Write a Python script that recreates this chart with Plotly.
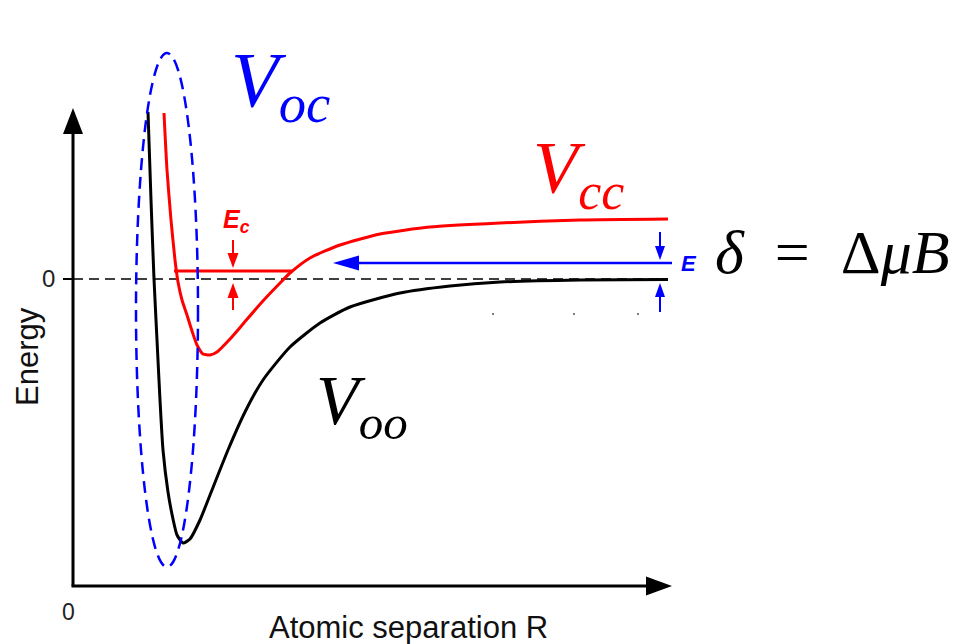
import plotly.graph_objects as go

# ---------------- data (R in px-like units, Energy with 0 at the threshold) -------------
R_oo = [148, 151, 154, 157, 160, 163, 168, 173, 177, 183, 190, 200, 212, 228, 245, 263,
        290, 320, 350, 400, 450, 500, 580, 668]
E_oo = [167, 79, 0, -61, -121, -171, -213, -240, -256, -264, -260, -241, -211, -171, -133,
        -101, -68, -44, -28, -14, -7, -3, -1, -0.5]

R_cc = [164, 167, 171, 175, 178, 182, 187, 192, 197, 203, 210, 217, 230, 243, 262, 283,
        290, 310, 340, 380, 430, 500, 580, 668]
E_cc = [166, 109, 59, 19, -3, -21, -36, -52, -66, -75, -76, -73, -60, -45, -23, -1,
        6, 21, 34, 45, 52, 56, 59, 60]

bound_R = [174, 292]
bound_E = 8

zero_R = [73, 668]
axis_origin = (73, -307)
axis_x_end = 672
axis_y_end = 171

ellipse_box = dict(x0=136, x1=198, y0=-288, y1=226)

ec_arrows = [((233, 39), (233, 11)), ((233, -31), (233, -4))]
delta_arrows = [((660, 47), (660, 19)), ((660, -33), (660, -4))]
E_arrow = ((672, 16), (333, 16))

stray_dots_R = [493, 574, 638]
stray_dots_E = [-35, -35, -35]

RED = "#ff0000"
BLUE = "#0000ff"
BLACK = "#000000"

fig = go.Figure()

fig.add_trace(go.Scatter(x=R_oo, y=E_oo, mode="lines", line=dict(color=BLACK, width=3, shape="spline", smoothing=0.6),
                         hoverinfo="skip", showlegend=False))
fig.add_trace(go.Scatter(x=R_cc, y=E_cc, mode="lines", line=dict(color=RED, width=3, shape="spline", smoothing=0.6),
                         hoverinfo="skip", showlegend=False))
fig.add_trace(go.Scatter(x=stray_dots_R, y=stray_dots_E, mode="markers",
                         marker=dict(color="#555555", size=2), hoverinfo="skip", showlegend=False))

shapes = []

def head(tip, tail, length, width, color):
    (tx, ty), (sx, sy) = tip, tail
    dx, dy = tx - sx, ty - sy
    n = (dx * dx + dy * dy) ** 0.5
    ux, uy = dx / n, dy / n
    bx, by = tx - ux * length, ty - uy * length
    px, py = -uy * width / 2, ux * width / 2
    path = f"M {tx},{ty} L {bx+px},{by+py} L {bx-px},{by-py} Z"
    return dict(type="path", path=path, fillcolor=color, line=dict(color=color, width=0), layer="above")

def arrow(tail, tip, color, lw, length, width):
    (sx, sy), (tx, ty) = tail, tip
    n = ((tx - sx) ** 2 + (ty - sy) ** 2) ** 0.5
    ux, uy = (tx - sx) / n, (ty - sy) / n
    ex, ey = tx - ux * length * 0.8, ty - uy * length * 0.8
    shapes.append(dict(type="line", x0=sx, y0=sy, x1=ex, y1=ey, line=dict(color=color, width=lw), layer="above"))
    shapes.append(head(tip, tail, length, width, color))

# zero dashed line
shapes.append(dict(type="line", x0=zero_R[0], x1=zero_R[1], y0=0, y1=0,
                   line=dict(color=BLACK, width=1.6, dash="10px,6px"), layer="below"))
# bound state
shapes.append(dict(type="line", x0=bound_R[0], x1=bound_R[1], y0=bound_E, y1=bound_E,
                   line=dict(color=RED, width=3)))
# ellipse
shapes.append(dict(type="circle", **ellipse_box, line=dict(color=BLUE, width=2.5, dash="12px,7px")))
# axes
ox, oy = axis_origin
arrow((ox, oy), (ox, axis_y_end), BLACK, 3, 26, 20)
arrow((ox - 1.5, oy), (axis_x_end, oy), BLACK, 3, 26, 19)
# y tick
shapes.append(dict(type="line", x0=63, x1=73, y0=0, y1=0, line=dict(color=BLACK, width=2)))
# Ec arrows
for tail, tip in ec_arrows:
    arrow(tail, tip, RED, 2, 15, 11)
# delta arrows
for tail, tip in delta_arrows:
    arrow(tail, tip, BLUE, 2, 14, 10)
arrow(E_arrow[0], E_arrow[1], BLUE, 2.5, 26, 15)

ann = []
def txt(x, y, text, size, color, family, angle=0):
    ann.append(dict(x=x, y=y, text=text, showarrow=False, textangle=angle,
                    font=dict(size=size, color=color, family=family), xanchor="center", yanchor="middle"))

SERIF = "Liberation Serif, DejaVu Serif, serif"
SANS = "Liberation Sans, Arial, sans-serif"
txt(280, 194, "<i>V</i><sub><i>oc</i></sub>", 78, BLUE, SERIF)
txt(578, 106, "<i>V</i><sub><i>cc</i></sub>", 74, RED, SERIF)
txt(362, -127, "<i>V</i><sub><i>oo</i></sub>", 70, BLACK, SERIF)
txt(832, 27, "<i>δ</i>&nbsp;&nbsp;=&nbsp;&nbsp;Δ<i>μB</i>", 62, BLACK, SERIF)
txt(236, 58, "<b><i>E</i></b><sub><b><i>c</i></b></sub>", 25, RED, SANS)
txt(689, 16, "<b><i>E</i></b>", 22, BLUE, SANS)
txt(48, 1, "0", 24, "#222222", SANS)
txt(68, -333, "0", 23, "#222222", SANS)
txt(27, -78, "Energy", 31, "#111111", SANS, angle=-90)
txt(408, -348, "Atomic separation R", 31, "#111111", SANS)

fig.update_layout(
    width=969, height=644, margin=dict(l=0, r=0, t=0, b=0),
    paper_bgcolor="white", plot_bgcolor="white",
    xaxis=dict(range=[0, 969], visible=False, fixedrange=True),
    yaxis=dict(range=[-365, 279], visible=False, fixedrange=True),
    shapes=shapes, annotations=ann,
)

fig.write_html("out.html")
